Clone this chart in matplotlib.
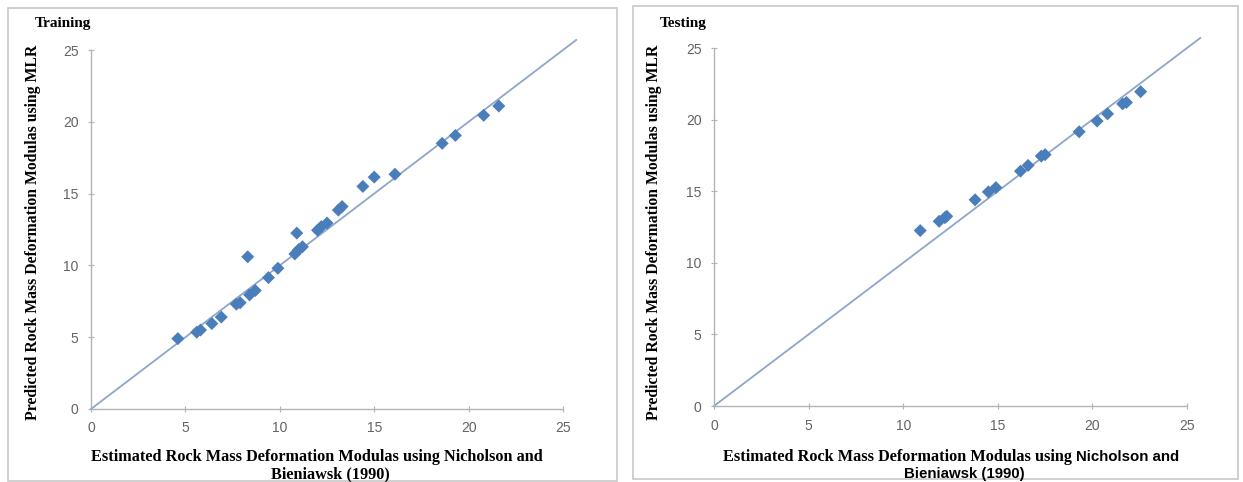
import matplotlib
matplotlib.use("Agg")
import matplotlib.pyplot as plt
from matplotlib.patches import Rectangle

# training set: estimated (Nicholson & Bieniawski) vs predicted (MLR)
train_est = [4.6, 5.6, 5.8, 6.4, 6.9, 7.7, 7.9, 8.3, 8.4, 8.7, 9.4, 9.9,
             10.8, 11.0, 11.2, 10.9, 12.0, 12.2, 12.5, 13.1, 13.3, 14.4,
             15.0, 16.1, 18.6, 19.3, 20.8, 21.6]
train_pred = [4.9, 5.35, 5.5, 5.95, 6.4, 7.3, 7.4, 10.6, 7.95, 8.25, 9.15, 9.8,
              10.8, 11.1, 11.3, 12.25, 12.45, 12.7, 12.95, 13.85, 14.1, 15.5,
              16.15, 16.35, 18.5, 19.05, 20.45, 21.1]

# testing set
test_est = [10.9, 11.9, 12.2, 12.3, 13.8, 14.5, 14.9, 16.2, 16.6, 17.3,
            17.5, 19.3, 20.25, 20.8, 21.6, 21.8, 22.55]
test_pred = [12.25, 12.9, 13.15, 13.25, 14.4, 14.95, 15.25, 16.4, 16.8, 17.45,
             17.55, 19.15, 19.9, 20.4, 21.1, 21.2, 21.95]

ticks = [0, 5, 10, 15, 20, 25]
line_x = [0, 25.7]
line_y = [0, 25.7]

W, H = 1243, 482
fig = plt.figure(figsize=(W / 100, H / 100), dpi=100)

serif = ["Liberation Serif", "DejaVu Serif"]
sans = ["Liberation Sans", "DejaVu Sans"]
blue = "#4a7ebb"
grey_axis = "#b3b3b3"


def fx(px):
    return px / W


def fy(py):
    return 1 - py / H


def panel(rect, xs, ys, title, title_xy):
    ax = fig.add_axes(rect)
    ax.plot(line_x, line_y, color="#8ea6c9", lw=1.3, clip_on=False, zorder=2)
    ax.scatter(xs, ys, marker="D", s=44, color=blue, edgecolors="none",
               zorder=3, clip_on=False)
    ax.set_xlim(0, 25)
    ax.set_ylim(0, 25)
    ax.set_xticks(ticks)
    ax.set_yticks(ticks)
    for s in ["top", "right"]:
        ax.spines[s].set_visible(False)
    for s in ["left", "bottom"]:
        ax.spines[s].set_color(grey_axis)
        ax.spines[s].set_linewidth(1.0)
    ax.tick_params(direction="inout", length=4, width=0.8, color=grey_axis,
                   labelsize=10, labelcolor="#646464", pad=7)
    for lab in ax.get_xticklabels() + ax.get_yticklabels():
        lab.set_family(sans)
    fig.text(title_xy[0], title_xy[1], title, family=serif, weight="bold",
             fontsize=11, ha="left", va="center")
    return ax


# frames around each chart
fig.patches.append(Rectangle((fx(8), fy(481)), fx(617 - 8), (481 - 8) / H,
                             transform=fig.transFigure, fill=False,
                             edgecolor="#c8c8c8", lw=1.2))
fig.patches.append(Rectangle((fx(633), fy(479)), fx(1238 - 633), (479 - 6) / H,
                             transform=fig.transFigure, fill=False,
                             edgecolor="#c8c8c8", lw=1.2))

ax1 = panel([fx(91), fy(409), fx(563 - 91), (409 - 50) / H],
            train_est, train_pred, "Training", (fx(35), fy(24)))
ax2 = panel([fx(714), fy(406), fx(1187 - 714), (406 - 48) / H],
            test_est, test_pred, "Testing", (fx(660), fy(24)))

ylab = "Predicted Rock Mass Deformation Modulas using MLR"
fig.text(fx(33), fy(232), ylab, rotation=90, family=serif, weight="bold",
         fontsize=11.3, ha="center", va="center")
fig.text(fx(654), fy(232), ylab, rotation=90, family=serif, weight="bold",
         fontsize=11.3, ha="center", va="center")

# x labels
fig.text(fx(317), fy(457), "Estimated Rock Mass Deformation Modulas using Nicholson and",
         family=serif, weight="bold", fontsize=11.7, ha="center", va="center")
fig.text(fx(330), fy(474), "Bieniawsk (1990)",
         family=serif, weight="bold", fontsize=11.7, ha="center", va="center")

fig.text(fx(1076), fy(457), "Estimated Rock Mass Deformation Modulas using ",
         family=serif, weight="bold", fontsize=11.7, ha="right", va="center")
fig.text(fx(1076), fy(457), "Nicholson and",
         family=sans, weight="bold", fontsize=10.8, ha="left", va="center")
fig.text(fx(964), fy(474), "Bieniawsk (1990)",
         family=sans, weight="bold", fontsize=10.8, ha="center", va="center")

fig.savefig("out.png", dpi=100)
